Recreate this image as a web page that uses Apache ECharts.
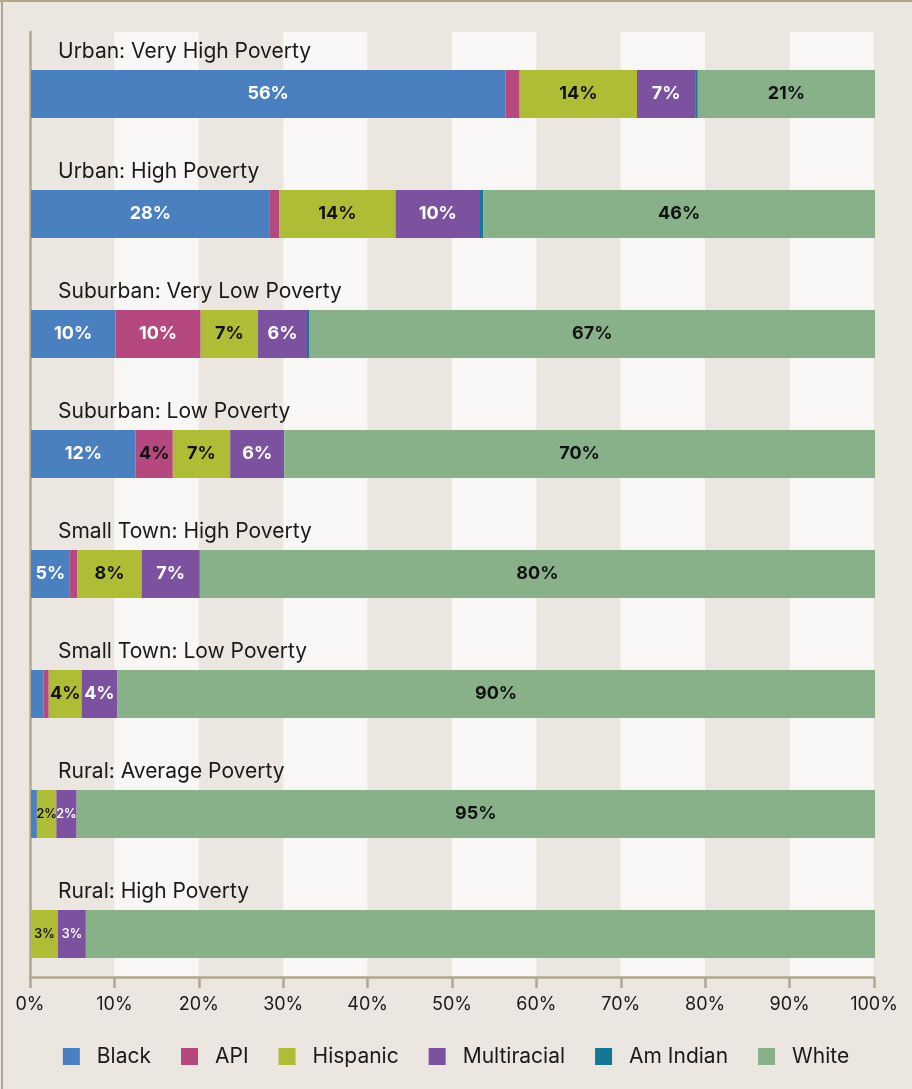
<!DOCTYPE html>
<html>
<head>
<meta charset="utf-8">
<script src="https://cdn.jsdelivr.net/npm/echarts@6/dist/echarts.min.js"></script>
<style>
  html, body { margin: 0; padding: 0; background: #ebe6e0; }
  #chart { width: 912px; height: 1089px; }
</style>
</head>
<body>
<div id="chart"></div>
<script>
  const categories = [
    'Urban: Very High Poverty',
    'Urban: High Poverty',
    'Suburban: Very Low Poverty',
    'Suburban: Low Poverty',
    'Small Town: High Poverty',
    'Small Town: Low Poverty',
    'Rural: Average Poverty',
    'Rural: High Poverty'
  ]
  // percent of students
  const black = [56.2, 28.3, 10.0, 12.4, 4.6, 1.5, 0.7, 0]
  const api = [1.7, 1.1, 10.1, 4.4, 0.9, 0.6, 0, 0]
  const hispanic = [13.9, 13.8, 6.8, 6.8, 7.6, 3.9, 2.3, 3.2]
  const multiracial = [6.9, 10.0, 5.8, 6.4, 6.9, 4.2, 2.4, 3.3]
  const amIndian = [0.3, 0.4, 0.3, 0, 0, 0, 0, 0]
  const white = [21.0, 46.4, 67.0, 70.0, 80.0, 89.8, 94.6, 93.5]
  const xTicks = [0, 10, 20, 30, 40, 50, 60, 70, 80, 90, 100]
  // the source leaves the White label off the last bar
  const hiddenWhiteLabels = ['Rural: High Poverty']

  const FONT = 'Inter, "Open Sans", sans-serif'
  const TAN = '#b4a58e'

  let chart = echarts.init(document.getElementById('chart'))

  // colour of the value text for each series (API switches to dark on narrow pieces)
  const labelColor = {
    'Black': () => '#ffffff',
    'API': v => v >= 5 ? '#ffffff' : '#111111',
    'Hispanic': () => '#111111',
    'Multiracial': () => '#ffffff',
    'Am Indian': () => '#ffffff',
    'White': () => '#111111'
  }

  const makeSeries = (name, values, color) => ({
    name: name,
    type: 'bar',
    stack: 'total',
    xAxisIndex: 0,
    yAxisIndex: 0,
    barWidth: 48,
    itemStyle: { color: color },
    data: values.map((v, i) => {
      let small = v < 3.5
      let show = v >= 2 && !(name === 'White' && hiddenWhiteLabels.includes(categories[i]))
      return {
        value: v,
        label: {
          show: show,
          position: 'inside',
          formatter: Math.round(v) + '%',
          color: labelColor[name](v),
          fontFamily: FONT,
          fontWeight: small ? 600 : 'bold',
          fontSize: small ? 12.5 : 18
        }
      }
    })
  })

  let option = {
    backgroundColor: '#ebe6e0',
    animation: false,
    grid: [
      // bars
      { left: 31, right: 37, top: 34, height: 960 },
      // bands, frame line and percent axis
      { left: 30, right: 38, top: 32, bottom: 112 }
    ],
    xAxis: [
      { gridIndex: 0, type: 'value', min: 0, max: 100, show: false },
      {
        gridIndex: 1,
        type: 'value',
        min: xTicks[0],
        max: xTicks[xTicks.length - 1],
        interval: 10,
        axisLine: { show: true, lineStyle: { color: TAN, width: 2.5 } },
        axisTick: { show: true, length: 11, lineStyle: { color: TAN, width: 2.5 } },
        axisLabel: { margin: 19, color: '#1a1a1a', fontSize: 18, fontFamily: FONT, formatter: '{value}%' },
        splitLine: { show: false },
        splitArea: { show: true, areaStyle: { color: ['#ebe6e0', '#f8f7f5'] } }
      }
    ],
    yAxis: [
      {
        gridIndex: 0,
        type: 'category',
        inverse: true,
        data: categories,
        axisLine: { show: false },
        axisTick: { show: false },
        axisLabel: {
          inside: true,
          margin: 27,
          verticalAlign: 'bottom',
          padding: [0, 0, 32, 0],
          color: '#1a1a1a',
          fontSize: 21,
          fontFamily: FONT
        },
        z: 10
      },
      {
        gridIndex: 1,
        type: 'value',
        axisLine: { show: true, lineStyle: { color: TAN, width: 2.5 } },
        axisTick: { show: false },
        axisLabel: { show: false },
        splitLine: { show: false }
      }
    ],
    legend: {
      bottom: 17,
      left: 'center',
      itemWidth: 17,
      itemHeight: 17,
      itemGap: 30,
      icon: 'rect',
      textStyle: { color: '#1a1a1a', fontSize: 21, fontFamily: FONT, padding: [0, 0, 0, 12] },
      data: ['Black', 'API', 'Hispanic', 'Multiracial', 'Am Indian', 'White']
    },
    graphic: [
      { type: 'rect', shape: { x: 0, y: 0, width: 912, height: 2 }, style: { fill: TAN } },
      { type: 'rect', shape: { x: 1, y: 0, width: 2, height: 1089 }, style: { fill: TAN } }
    ],
    series: [
      makeSeries('Black', black, '#4a80c0'),
      makeSeries('API', api, '#b5487e'),
      makeSeries('Hispanic', hispanic, '#afbd36'),
      makeSeries('Multiracial', multiracial, '#7c52a0'),
      makeSeries('Am Indian', amIndian, '#137694'),
      makeSeries('White', white, '#88b089')
    ]
  }

  chart.setOption(option)
</script>
</body>
</html>
